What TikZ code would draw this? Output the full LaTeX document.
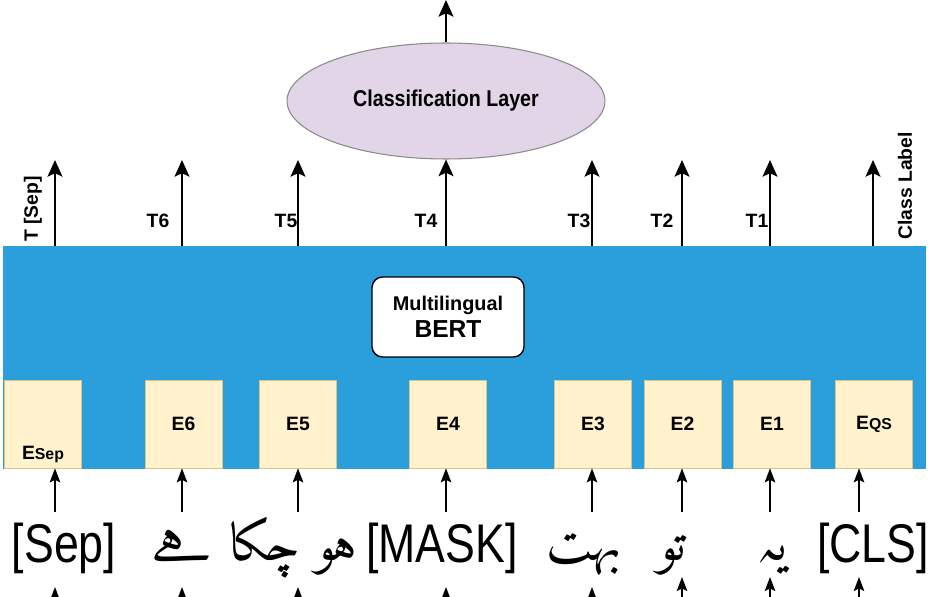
\documentclass[tikz,border=0pt]{standalone}
\usepackage{fontspec}
\setmainfont{Liberation Sans}
\IfFontExistsTF{amiri-regular.ttf}
  {\newfontfamily\urdufont[Script=Arabic,Language=Urdu]{amiri-regular.ttf}}
  {\IfFontExistsTF{Amiri-Regular.ttf}
    {\newfontfamily\urdufont[Script=Arabic,Language=Urdu]{Amiri-Regular.ttf}}
    {\newfontfamily\urdufont[Script=Arabic]{DejaVu Sans}}}
\TeXXeTstate=1
\usetikzlibrary{arrows.meta,shapes.geometric}

\definecolor{bertblue}{HTML}{2A9FDB}
\definecolor{embfill}{HTML}{FFF2CC}
\definecolor{embline}{HTML}{D9C48A}
\definecolor{clsfill}{HTML}{E1D5E7}
\definecolor{clsline}{HTML}{8A8A8A}

\newcommand\narrowtext[1]{\scalebox{0.82}[1]{#1}}

\tikzset{
  embbox/.style={fill=embfill, draw=embline, line width=0.4pt, minimum width=1.54cm,
    minimum height=1.76cm, inner sep=0pt, font=\bfseries\fontsize{11}{13}\selectfont},
  outarrow/.style={line width=1.1pt, -{Stealth[length=9.5pt,width=8.5pt,inset=2pt]}},
  inarrow/.style={line width=0.9pt, -{Stealth[length=8pt,width=6pt,inset=1.5pt]}},
  tlabel/.style={inner sep=0pt, font=\bfseries\fontsize{11}{13}\selectfont},
  word/.style={anchor=base, inner sep=0pt, font=\fontsize{31}{36}\selectfont},
  urduword/.style={anchor=base, inner sep=0pt, font=\urdufont\fontsize{30}{36}\selectfont},
}

\begin{document}
\begin{tikzpicture}[x=0.02cm, y=-0.02cm]
    \useasboundingbox (0,0) rectangle (942,597);
    \clip (0,0) rectangle (942,597);

    % 编码器
    \node (enc) [fill=bertblue, minimum width=18.46cm, minimum height=4.46cm, inner sep=0pt] at (464.5,357.5) {};
    \node (mbert) [fill=white, draw=black, line width=0.8pt, rounded corners=6pt, minimum width=3.04cm,
      minimum height=1.6cm, align=center, font=\bfseries] at (448,317)
      {{\fontsize{11.3}{13}\selectfont Multilingual}\\[2pt]{\fontsize{14}{15}\selectfont BERT}};

    % 嵌入
    \node (esep) [embbox, label={[anchor=south, inner sep=3pt, font=\bfseries\fontsize{11}{13}\selectfont]south:E{\fontsize{9}{10}\selectfont Sep}}] at (43,424) {};
    \node (e6) [embbox] at (183.5,424) {E6};
    \node (e5) [embbox] at (298,424) {E5};
    \node (e4) [embbox] at (448,424) {E4};
    \node (e3) [embbox] at (593,424) {E3};
    \node (e2) [embbox] at (682.5,424) {E2};
    \node (e1) [embbox] at (772,424) {E1};
    \node (eqs) [embbox] at (874,424) {E{\fontsize{9}{10}\selectfont QS}};

    % 分类层
    \node (cls) [ellipse, fill=clsfill, draw=clsline, line width=0.6pt, minimum width=6.36cm, minimum height=2.32cm,
      font=\bfseries\fontsize{13}{15}\selectfont] at (446,101) {\scalebox{0.86}[1]{Classification Layer}};
    \coordinate (out) at (446,0);
    \draw[outarrow] (cls.north) -- (out);

    % 输出
    \coordinate (tsep) at (55,160);
    \coordinate (t6) at (182,160);
    \coordinate (t5) at (298,160);
    \coordinate (t3) at (592,160);
    \coordinate (t2) at (682,160);
    \coordinate (t1) at (770,160);
    \coordinate (tqs) at (873,160);
    \draw[outarrow] (tsep |- enc.north) -- (tsep);
    \draw[outarrow] (t6 |- enc.north) -- (t6);
    \draw[outarrow] (t5 |- enc.north) -- (t5);
    \draw[outarrow] (cls.south |- enc.north) -- (cls.south);
    \draw[outarrow] (t3 |- enc.north) -- (t3);
    \draw[outarrow] (t2 |- enc.north) -- (t2);
    \draw[outarrow] (t1 |- enc.north) -- (t1);
    \draw[outarrow] (tqs |- enc.north) -- (tqs);

    \node (lsep) [tlabel, rotate=90] at (33,209) {T [Sep]};
    \node (l6) [tlabel] at (158,221) {T6};
    \node (l5) [tlabel] at (286,221) {T5};
    \node (l4) [tlabel] at (426,221) {T4};
    \node (l3) [tlabel] at (579,221) {T3};
    \node (l2) [tlabel] at (662,221) {T2};
    \node (l1) [tlabel] at (757,221) {T1};
    \node (lclass) [tlabel, rotate=90] at (905,186) {Class Label};

    % 输入词
    \node (wsep) [word] at (64,562) {\narrowtext{[Sep]}};
    \node (w6) [urduword] at (182,560) {\beginR ہے\endR};
    \node (w5) [urduword] at (294,560) {\beginR ہو چکا\endR};
    \node (wmask) [word] at (442,562) {\narrowtext{[MASK]}};
    \node (w3) [urduword] at (584,560) {\beginR بہت\endR};
    \node (w2) [urduword] at (672,560) {\beginR تو\endR};
    \node (w1) [urduword] at (772,560) {\beginR یہ\endR};
    \node (wcls) [word] at (873,562) {\narrowtext{[CLS]}};

    % 词到嵌入
    \coordinate (bsep) at (55,512);
    \coordinate (b6) at (182,512);
    \coordinate (b5) at (298,512);
    \coordinate (b4) at (446,512);
    \coordinate (b3) at (592,512);
    \coordinate (b2) at (682,512);
    \coordinate (b1) at (770,512);
    \coordinate (bqs) at (859,512);
    \draw[inarrow] (bsep) -- (bsep |- esep.south);
    \draw[inarrow] (b6) -- (b6 |- e6.south);
    \draw[inarrow] (b5) -- (b5 |- e5.south);
    \draw[inarrow] (b4) -- (b4 |- e4.south);
    \draw[inarrow] (b3) -- (b3 |- e3.south);
    \draw[inarrow] (b2) -- (b2 |- e2.south);
    \draw[inarrow] (b1) -- (b1 |- e1.south);
    \draw[inarrow] (bqs) -- (bqs |- eqs.south);

    % 下方箭头
    \coordinate (usep) at (55,587);
    \coordinate (u6) at (182,587);
    \coordinate (u5) at (298,587);
    \coordinate (u4) at (446,587);
    \coordinate (u3) at (592,587);
    \coordinate (u2) at (682,577);
    \coordinate (u1) at (770,577);
    \coordinate (uqs) at (859,577);
    \draw[inarrow] (usep |- 0,610) -- (usep);
    \draw[inarrow] (u6 |- 0,610) -- (u6);
    \draw[inarrow] (u5 |- 0,610) -- (u5);
    \draw[inarrow] (u4 |- 0,610) -- (u4);
    \draw[inarrow] (u3 |- 0,610) -- (u3);
    \draw[inarrow] (u2 |- 0,610) -- (u2);
    \draw[inarrow] (u1 |- 0,610) -- (u1);
    \draw[inarrow] (uqs |- 0,610) -- (uqs);
\end{tikzpicture}
\end{document}
